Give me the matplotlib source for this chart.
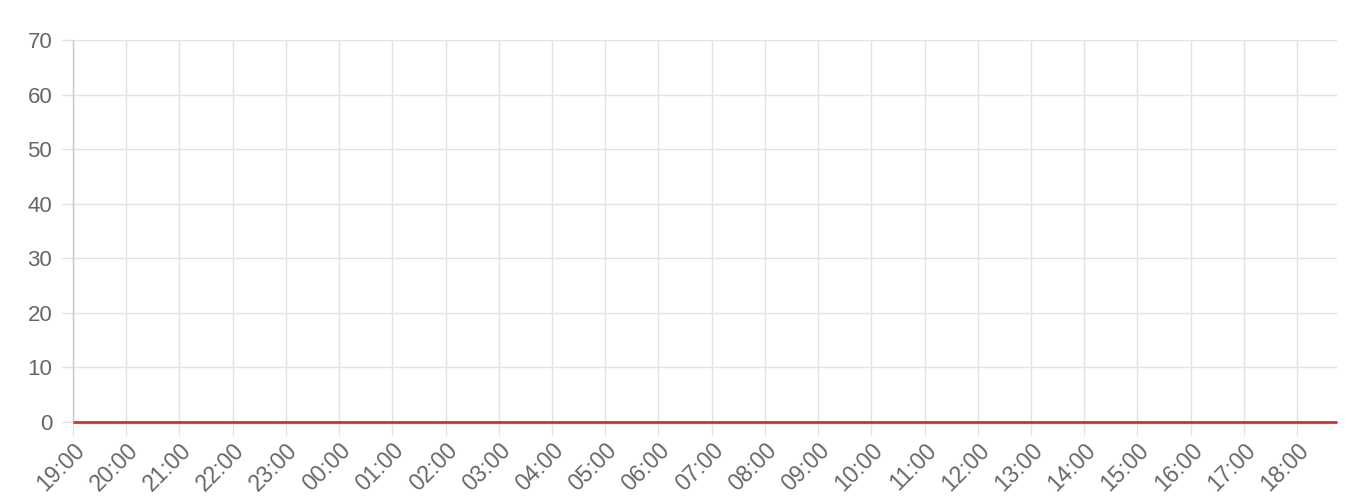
import matplotlib

matplotlib.use("Agg")

import matplotlib.pyplot as plt

# data: one reading per hour from 19:00, last one at 18:45
hour_labels = ["19:00", "20:00", "21:00", "22:00", "23:00", "00:00", "01:00", "02:00",
               "03:00", "04:00", "05:00", "06:00", "07:00", "08:00", "09:00", "10:00",
               "11:00", "12:00", "13:00", "14:00", "15:00", "16:00", "17:00", "18:00"]
sample_hours = [0, 1, 2, 3, 4, 5, 6, 7, 8, 9, 10, 11, 12, 13, 14, 15, 16, 17, 18, 19,
                20, 21, 22, 23, 23.75]
sample_values = [0, 0, 0, 0, 0, 0, 0, 0, 0, 0, 0, 0, 0, 0, 0, 0, 0, 0, 0, 0, 0, 0, 0, 0, 0]
y_ticks = [0, 10, 20, 30, 40, 50, 60, 70]

GRID = "#e3e3e3"
AXIS = "#c8c8c8"
LABEL = "#666666"
RED = "#e02a2a"

plt.rcParams["font.family"] = ["Liberation Sans", "DejaVu Sans"]

fig = plt.figure(figsize=(13.6, 5.03), dpi=100)
ax = fig.add_axes([73 / 1360, (503 - 422) / 503, (1337 - 73) / 1360, (422 - 40) / 503])

ax.plot(sample_hours, sample_values, color=RED, linewidth=2.0, solid_capstyle="butt",
        zorder=3, clip_on=False)

ax.set_xlim(0, sample_hours[-1])
ax.set_ylim(0, 70)
ax.set_xticks(range(len(hour_labels)))
ax.set_xticklabels(hour_labels, rotation=45, ha="right", rotation_mode="anchor")
ax.set_yticks(y_ticks)

ax.grid(True, color=GRID, linewidth=1.0)
ax.set_axisbelow(True)
ax.tick_params(axis="both", length=9, width=1.0, color=GRID, labelcolor=LABEL,
               labelsize=16.5, pad=3)
ax.tick_params(axis="y", labelsize=16, pad=6)

for side in ("top", "right", "bottom"):
    ax.spines[side].set_visible(False)
ax.spines["left"].set_color(AXIS)
ax.spines["left"].set_linewidth(1.0)

fig.savefig("out.png", dpi=100, facecolor="white")
